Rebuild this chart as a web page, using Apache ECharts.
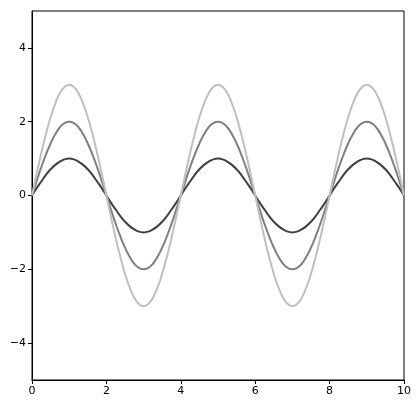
<!DOCTYPE html>
<html>
<head>
<meta charset="utf-8">
<script src="https://cdn.jsdelivr.net/npm/echarts@6/dist/echarts.min.js"></script>
<style>html,body{margin:0;padding:0;background:#fff;}#c{width:419px;height:406px;}</style>
</head>
<body>
<div id="c"></div>
<script>
var xs = [0,0.125,0.25,0.375,0.5,0.625,0.75,0.875,1,1.125,1.25,1.375,1.5,1.625,1.75,1.875,2,2.125,2.25,2.375,2.5,2.625,2.75,2.875,3,3.125,3.25,3.375,3.5,3.625,3.75,3.875,4,4.125,4.25,4.375,4.5,4.625,4.75,4.875,5,5.125,5.25,5.375,5.5,5.625,5.75,5.875,6,6.125,6.25,6.375,6.5,6.625,6.75,6.875,7,7.125,7.25,7.375,7.5,7.625,7.75,7.875,8,8.125,8.25,8.375,8.5,8.625,8.75,8.875,9,9.125,9.25,9.375,9.5,9.625,9.75,9.875,10];
var amp1 = [0,0.20,0.38,0.56,0.71,0.83,0.92,0.98,1,0.98,0.92,0.83,0.71,0.56,0.38,0.20,0,-0.20,-0.38,-0.56,-0.71,-0.83,-0.92,-0.98,-1,-0.98,-0.92,-0.83,-0.71,-0.56,-0.38,-0.20,
            0,0.20,0.38,0.56,0.71,0.83,0.92,0.98,1,0.98,0.92,0.83,0.71,0.56,0.38,0.20,0,-0.20,-0.38,-0.56,-0.71,-0.83,-0.92,-0.98,-1,-0.98,-0.92,-0.83,-0.71,-0.56,-0.38,-0.20,
            0,0.20,0.38,0.56,0.71,0.83,0.92,0.98,1,0.98,0.92,0.83,0.71,0.56,0.38,0.20,0];
var amp2 = [0,0.39,0.77,1.11,1.41,1.66,1.85,1.96,2,1.96,1.85,1.66,1.41,1.11,0.77,0.39,0,-0.39,-0.77,-1.11,-1.41,-1.66,-1.85,-1.96,-2,-1.96,-1.85,-1.66,-1.41,-1.11,-0.77,-0.39,
            0,0.39,0.77,1.11,1.41,1.66,1.85,1.96,2,1.96,1.85,1.66,1.41,1.11,0.77,0.39,0,-0.39,-0.77,-1.11,-1.41,-1.66,-1.85,-1.96,-2,-1.96,-1.85,-1.66,-1.41,-1.11,-0.77,-0.39,
            0,0.39,0.77,1.11,1.41,1.66,1.85,1.96,2,1.96,1.85,1.66,1.41,1.11,0.77,0.39,0];
var amp3 = [0,0.59,1.15,1.67,2.12,2.49,2.77,2.94,3,2.94,2.77,2.49,2.12,1.67,1.15,0.59,0,-0.59,-1.15,-1.67,-2.12,-2.49,-2.77,-2.94,-3,-2.94,-2.77,-2.49,-2.12,-1.67,-1.15,-0.59,
            0,0.59,1.15,1.67,2.12,2.49,2.77,2.94,3,2.94,2.77,2.49,2.12,1.67,1.15,0.59,0,-0.59,-1.15,-1.67,-2.12,-2.49,-2.77,-2.94,-3,-2.94,-2.77,-2.49,-2.12,-1.67,-1.15,-0.59,
            0,0.59,1.15,1.67,2.12,2.49,2.77,2.94,3,2.94,2.77,2.49,2.12,1.67,1.15,0.59,0];
var yTicks = [-4,-2,0,2,4];
var xTicks = [0,2,4,6,8,10];
var colors = ['#404040','#808080','#bfbfbf'];

function pairs(ys){ return xs.map(function(x,i){ return [x, ys[i]]; }); }
function mk(ys, c){
  return {type:'line', data:pairs(ys), smooth:true, showSymbol:false, symbol:'none',
    lineStyle:{color:c, width:2}, itemStyle:{color:c}, animation:false};
}
function fmt(v){ return v<0 ? '\u2212'+Math.abs(v) : String(v); }
var labelStyle = {color:'#000', fontFamily:'DejaVu Sans', fontSize:11, margin:6, formatter:fmt};
var chart = echarts.init(document.getElementById('c'));
chart.setOption({
  backgroundColor:'#fff',
  animation:false,
  grid:{left:32, right:15, top:11, bottom:26, show:true, borderColor:'#000', borderWidth:1, containLabel:false},
  xAxis: {type:'value', min:0, max:10, interval:2,
    axisLine:{show:true, onZero:false, lineStyle:{color:'#000', width:1}},
    axisTick:{show:true, inside:false, length:4, lineStyle:{color:'#000'}, customValues:xTicks},
    axisLabel:Object.assign({customValues:xTicks}, labelStyle),
    splitLine:{show:false}},
  yAxis: {type:'value', min:-5, max:5,
    axisLine:{show:true, onZero:false, lineStyle:{color:'#000', width:1}},
    axisTick:{show:true, inside:false, length:4, lineStyle:{color:'#000'}, customValues:yTicks},
    axisLabel:Object.assign({customValues:yTicks}, labelStyle),
    splitLine:{show:false}},
  series:[mk(amp1, colors[0]), mk(amp2, colors[1]), mk(amp3, colors[2])]
});
</script>
</body>
</html>
